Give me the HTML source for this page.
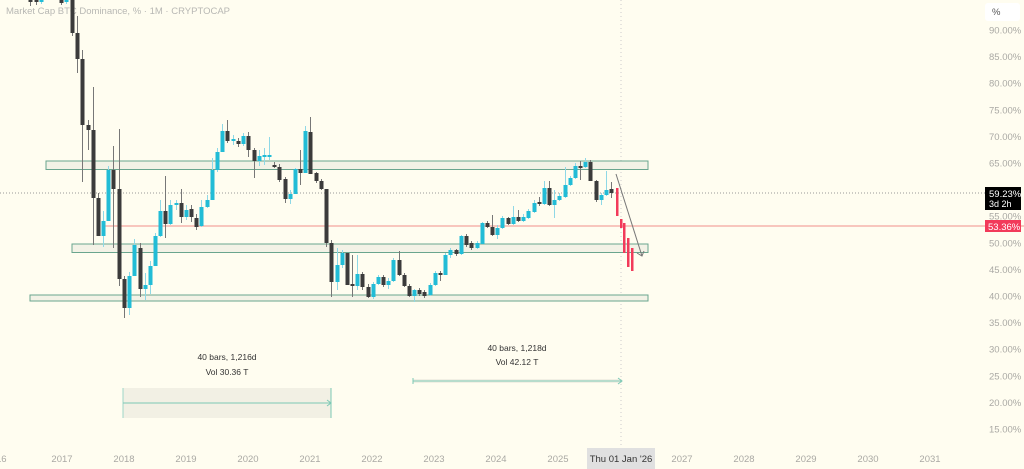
<!DOCTYPE html>
<html><head><meta charset="utf-8"><style>
html,body{margin:0;padding:0;background:#fffdf0;}
body{width:1024px;height:469px;overflow:hidden;position:relative;font-family:"Liberation Sans",sans-serif;}
svg{position:absolute;left:0;top:0}
.ax{font-size:9.5px;fill:#aaa9a4}
.t{font-size:8.5px;fill:#333}
</style></head><body>
<svg id="s" width="1024" height="469" xmlns="http://www.w3.org/2000/svg">
<text x="6" y="14" style="font-size:9.5px;fill:#b8b8b4">Market Cap BTC Dominance, % · 1M · CRYPTOCAP</text>
<line x1="0" y1="193" x2="985" y2="193" stroke="#999" stroke-width="1" stroke-dasharray="1,2"/>
<line x1="621" y1="0" x2="621" y2="450" stroke="#ccc" stroke-width="1" stroke-dasharray="1,3"/>
<line x1="105" y1="226" x2="1024" y2="226" stroke="#f0908a" stroke-width="1"/>
<rect x="46" y="161" width="602" height="8.5" fill="#f3f2e6" stroke="#6aa58e" stroke-width="1"/>
<rect x="72" y="244" width="576" height="8.5" fill="#f3f2e6" stroke="#6aa58e" stroke-width="1"/>
<rect x="30" y="295" width="618" height="6" fill="#f3f2e6" stroke="#6aa58e" stroke-width="1"/>
<g id="c"></g>
<line x1="616" y1="174" x2="642" y2="256" stroke="#777" stroke-width="1"/>
<polyline points="637,253 642,256 644,251" fill="none" stroke="#777" stroke-width="1"/>
<rect x="123" y="388" width="208" height="30" fill="#f2f0e4"/>
<line x1="123" y1="388" x2="123" y2="418" stroke="#9fd6c8"/>
<line x1="331" y1="388" x2="331" y2="418" stroke="#7cc9b5"/>
<line x1="123" y1="403" x2="331" y2="403" stroke="#7cc9b5"/>
<polyline points="327,400 331,403 327,406" fill="none" stroke="#7cc9b5"/>
<text class="t" x="227" y="360" text-anchor="middle">40 bars, 1,216d</text>
<text class="t" x="227" y="375" text-anchor="middle">Vol 30.36 T</text>
<rect x="413" y="379" width="209" height="4" fill="#f2f0e4"/>
<line x1="413" y1="381" x2="622" y2="381" stroke="#7cc9b5"/>
<line x1="413" y1="378" x2="413" y2="384" stroke="#7cc9b5"/>
<polyline points="618,378 622,381 618,384" fill="none" stroke="#7cc9b5"/>
<text class="t" x="517" y="351" text-anchor="middle">40 bars, 1,218d</text>
<text class="t" x="517" y="365" text-anchor="middle">Vol 42.12 T</text>
<g id="ax"></g>
<rect x="985" y="3" width="35" height="18" rx="3" fill="#fff"/>
<text class="ax" x="992" y="15" style="fill:#555">%</text>
<rect x="985" y="187" width="36" height="23" fill="#000"/>
<text x="989" y="197" style="font-size:9.5px;fill:#fff">59.23%</text>
<text x="989" y="207" style="font-size:9px;fill:#fff">3d 2h</text>
<rect x="985" y="220" width="36" height="12" fill="#f23a5a"/>
<text x="988" y="230" style="font-size:9.5px;fill:#fff">53.36%</text>
<rect x="587" y="448" width="68" height="21" fill="#e0e0e0"/>
<text x="621" y="462" text-anchor="middle" style="font-size:9.5px;fill:#333">Thu 01 Jan '26</text>
</svg>
<script>
var d=[
[30,0,2,0,6,'d'],[36,0,2,0,5,'d'],[41,0,2,0,4,'c'],[61,0,3,0,5,'d'],[66,0,2,0,4,'c'],
[72,0,33,0,36,'d'],[77,33,59,16,73,'d'],[82,59,125,50,182,'d'],[88,125,130,120,150,'d'],[93,130,198,87,245,'d'],[98,198,236,193,236,'d'],[103,221,236,211,247,'c'],[108,170,221,166,221,'c'],[113,170,189,146,248,'d'],[119,189,279,129,286,'d'],[124,279,308,276,318,'d'],[129,276,308,272,315,'c'],[134,245,276,239,276,'c'],[140,248,289,243,297,'d'],[145,285,289,273,300,'c'],[150,266,285,261,294,'c'],[155,236,266,233,266,'c'],[160,211,236,200,237,'c'],[165,211,224,176,238,'d'],[170,205,224,200,225,'c'],[176,203,205,200,210,'c'],[181,203,217,189,223,'d'],[186,210,217,205,220,'c'],[191,209,217,205,222,'d'],[196,218,227,214,230,'d'],[201,207,226,200,227,'c'],[207,200,207,195,208,'c'],[212,170,200,158,200,'c'],[217,152,170,148,172,'c'],[222,131,152,124,152,'c'],[227,131,141,120,143,'d'],[233,139,141,135,145,'c'],[238,141,144,138,147,'d'],[243,136,144,133,146,'c'],[248,136,150,132,157,'d'],[254,150,161,148,178,'d'],[259,156,161,150,166,'c'],[264,155,157,148,165,'c'],[269,155,157,137,160,'c'],[274,165,167,162,168,'d'],[279,167,180,164,182,'d'],[285,179,199,177,203,'d'],[290,194,199,190,204,'c'],[295,169,194,168,194,'c'],[300,169,173,150,185,'d'],[305,131,173,126,173,'c'],[310,132,174,117,174,'d'],[316,173,181,172,183,'d'],[321,181,189,179,190,'d'],[326,189,243,189,247,'d'],[331,243,282,240,297,'d'],[337,265,282,248,290,'c'],[342,253,265,250,268,'c'],[347,253,285,253,285,'d'],[352,284,286,255,297,'d'],[357,274,286,255,290,'c'],[362,274,287,272,290,'d'],[368,287,297,284,298,'d'],[373,284,297,282,299,'c'],[378,277,284,275,285,'c'],[383,277,285,275,287,'d'],[388,281,285,278,289,'c'],[393,260,281,258,282,'c'],[399,260,275,251,276,'d'],[404,275,286,273,287,'d'],[409,286,296,284,297,'d'],[414,290,296,289,302,'c'],[419,290,294,288,296,'d'],[424,292,296,290,298,'d'],[430,285,295,283,296,'c'],[435,273,285,271,286,'c'],[440,273,275,271,281,'d'],[445,255,275,253,275,'c'],[450,250,255,248,258,'c'],[456,250,254,249,256,'d'],[461,236,254,235,255,'c'],[466,236,245,234,247,'d'],[471,243,248,241,250,'d'],[477,243,248,241,249,'c'],[482,223,244,222,244,'c'],[487,223,227,221,228,'d'],[492,227,235,215,236,'d'],[497,228,235,225,239,'c'],[502,218,228,216,229,'c'],[508,218,224,217,225,'d'],[513,217,224,206,225,'c'],[518,217,221,210,222,'d'],[523,217,221,214,222,'c'],[528,211,218,209,219,'c'],[534,203,212,200,213,'c'],[539,202,204,197,206,'d'],[544,188,204,181,205,'c'],[549,188,205,181,206,'d'],[554,200,205,190,218,'c'],[559,196,200,193,201,'c'],[565,185,197,167,198,'c'],[570,178,185,176,186,'c'],[575,166,178,163,179,'c'],[580,166,168,161,180,'d'],[585,162,167,158,168,'c'],[590,162,181,160,181,'d'],[596,181,200,180,202,'d'],[601,195,200,193,205,'c'],[606,190,195,171,196,'c'],[611,189,193,182,198,'d']];
var g=document.getElementById('c'),h='';
d.forEach(function(a){var col=a[5]=='c'?'#22bcd6':'#3b3b3b',wc=a[5]=='c'?'#8fd8e6':'#777';
h+='<line x1="'+(a[0]+.5)+'" y1="'+a[3]+'" x2="'+(a[0]+.5)+'" y2="'+a[4]+'" stroke="'+wc+'" stroke-width="1"/>';
h+='<rect x="'+(a[0]-1.5)+'" y="'+a[1]+'" width="4" height="'+Math.max(2,a[2]-a[1])+'" fill="'+col+'"/>';});
[[617,188,216],[621,219,228],[624,223,253],[628,238,267],[632,248,271]].forEach(function(r){h+='<rect x="'+(r[0]-1)+'" y="'+r[1]+'" width="2.5" height="'+(r[2]-r[1])+'" fill="#f23a5a"/>';});
g.innerHTML=h;
var ax='';for(var p=90;p>=15;p-=5){var y=30+(90-p)*5.32;if(p==60)continue;ax+='<text class="ax" x="989" y="'+(y+3.5)+'">'+p.toFixed(2)+'%</text>';}
ax+='<text class="ax" x="-4" y="462">16</text>';
for(var yr=2017;yr<=2031;yr++){if(yr==2026)continue;ax+='<text class="ax" x="'+(62+(yr-2017)*62)+'" y="462" text-anchor="middle">'+yr+'</text>';}
document.getElementById('ax').innerHTML=ax;
</script>
</body></html>
